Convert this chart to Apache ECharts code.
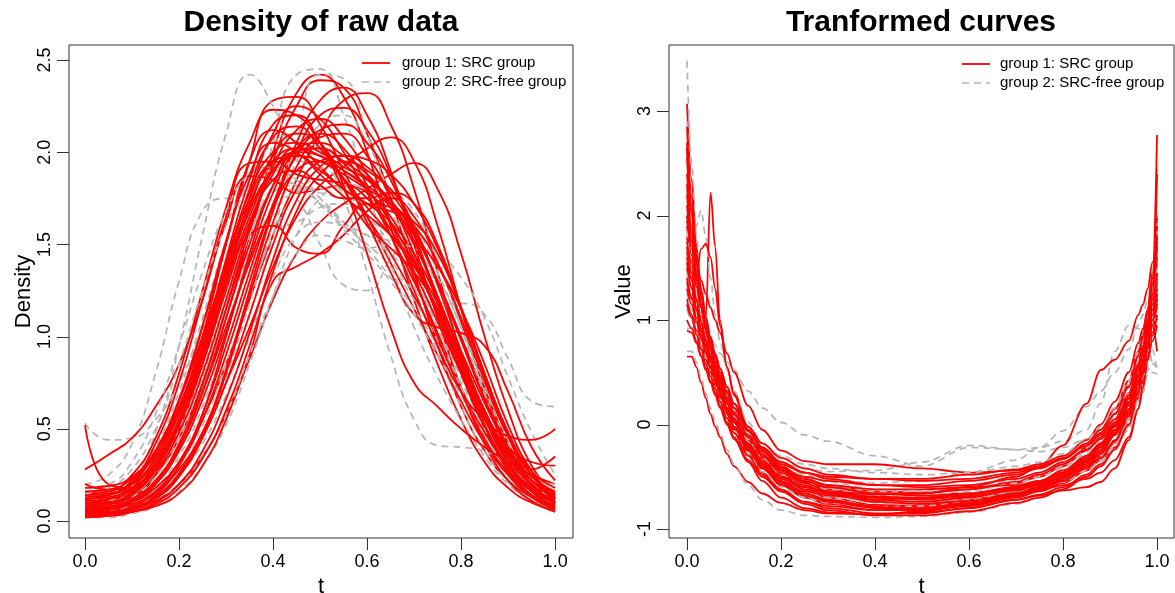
<!DOCTYPE html>
<html>
<head>
<meta charset="utf-8">
<script src="https://cdn.jsdelivr.net/npm/echarts@6/dist/echarts.min.js"></script>
<style>
html,body{margin:0;padding:0;background:#fff;}
#chart{width:1175px;height:593px;}
</style>
</head>
<body>
<div id="chart"></div>
<script>
// ---------- DATA ----------
const xTicks = [0, 0.2, 0.4, 0.6, 0.8, 1.0];
const leftYTicks = [0, 0.5, 1.0, 1.5, 2.0, 2.5];
const rightYTicks = [-1, 0, 1, 2, 3];
const legendNames = ['group 1: SRC group', 'group 2: SRC-free group'];

// left panel: density of raw data, sampled at tLeft
const tLeft = [0,0.05,0.1,0.15,0.2,0.25,0.3,0.35,0.4,0.45,0.5,0.55,0.6,0.65,0.7,0.75,0.8,0.85,0.9,0.95,1];
const leftRed = [
 [0.05,0.06,0.10,0.20,0.40,0.70,1.10,1.55,2.00,2.32,2.42,2.30,2.00,1.60,1.20,0.85,0.55,0.32,0.18,0.10,0.06],
 [0.08,0.09,0.13,0.25,0.45,0.75,1.15,1.55,1.95,2.25,2.39,2.35,2.10,1.75,1.35,0.95,0.62,0.38,0.22,0.13,0.08],
 [0.10,0.11,0.18,0.35,0.65,1.05,1.50,1.95,2.28,2.30,2.15,1.90,1.65,1.40,1.15,0.90,0.65,0.42,0.25,0.14,0.09],
 [0.04,0.05,0.08,0.15,0.30,0.55,0.90,1.30,1.70,2.05,2.28,2.35,2.20,1.90,1.50,1.10,0.72,0.42,0.22,0.11,0.05],
 [0.06,0.07,0.10,0.18,0.32,0.55,0.85,1.20,1.55,1.85,2.10,2.28,2.32,2.15,1.80,1.35,0.90,0.52,0.27,0.13,0.06],
 [0.15,0.16,0.25,0.45,0.80,1.25,1.70,2.05,2.23,2.20,2.05,1.85,1.65,1.45,1.22,0.98,0.72,0.48,0.30,0.18,0.12],
 [0.07,0.08,0.12,0.25,0.50,0.85,1.30,1.75,2.10,2.25,2.18,2.00,1.78,1.55,1.30,1.02,0.72,0.45,0.26,0.14,0.08],
 [0.05,0.06,0.09,0.16,0.28,0.48,0.75,1.05,1.38,1.65,1.82,1.92,2.02,2.08,1.95,1.60,1.15,0.72,0.40,0.20,0.10],
 [0.03,0.04,0.06,0.11,0.20,0.35,0.58,0.88,1.20,1.45,1.62,1.72,1.80,1.88,1.94,1.80,1.45,1.00,0.60,0.30,0.14],
 [0.28,0.36,0.45,0.62,0.85,1.20,1.62,1.87,1.85,1.78,1.80,1.82,1.75,1.58,1.35,1.08,0.80,0.55,0.35,0.22,0.15],
 [0.12,0.14,0.22,0.42,0.75,1.20,1.65,1.94,1.95,1.88,1.85,1.83,1.78,1.65,1.42,1.12,0.80,0.50,0.28,0.16,0.10],
 [0.09,0.10,0.16,0.32,0.60,1.00,1.50,1.95,2.12,2.05,1.92,1.80,1.72,1.62,1.45,1.20,0.90,0.60,0.36,0.20,0.12],
 [0.02,0.03,0.05,0.08,0.15,0.30,0.55,0.90,1.30,1.38,1.45,1.55,1.68,1.75,1.65,1.40,1.08,0.72,0.42,0.22,0.10],
 [0.10,0.12,0.20,0.38,0.65,1.00,1.35,1.55,1.60,1.48,1.45,1.60,1.72,1.70,1.55,1.30,1.00,0.68,0.40,0.22,0.12],
 [0.52,0.20,0.18,0.30,0.55,0.92,1.35,1.72,1.95,2.02,1.98,1.90,1.82,1.70,1.50,1.22,0.90,0.58,0.34,0.20,0.13],
 [0.10,0.10,0.15,0.28,0.52,0.88,1.30,1.70,1.98,2.10,2.05,1.82,1.45,1.05,0.75,0.62,0.50,0.40,0.32,0.25,0.20],
 [0.05,0.06,0.10,0.20,0.40,0.70,1.05,1.40,1.70,1.90,1.95,1.85,1.62,1.35,1.12,1.05,1.02,0.95,0.70,0.40,0.22],
 [0.06,0.07,0.11,0.20,0.38,0.66,1.02,1.42,1.78,2.02,2.10,2.02,1.82,1.55,1.25,0.95,0.70,0.55,0.46,0.44,0.50],
 [0.18,0.19,0.24,0.38,0.62,0.98,1.40,1.78,2.00,2.05,2.00,1.92,1.85,1.72,1.52,1.22,0.88,0.56,0.32,0.18,0.12],
 [0.04,0.05,0.07,0.13,0.25,0.45,0.75,1.12,1.50,1.80,1.95,1.98,1.92,1.78,1.58,1.30,0.98,0.66,0.40,0.22,0.12],
 [0.03,0.04,0.06,0.12,0.24,0.46,0.80,1.22,1.62,1.92,2.08,2.10,1.98,1.75,1.45,1.12,0.80,0.52,0.30,0.16,0.08],
 [0.12,0.13,0.18,0.30,0.52,0.85,1.25,1.62,1.85,1.90,1.82,1.75,1.75,1.78,1.72,1.50,1.15,0.78,0.46,0.25,0.15],
 [0.08,0.09,0.14,0.28,0.55,0.95,1.42,1.85,2.15,2.20,2.05,1.80,1.60,1.48,1.35,1.15,0.88,0.60,0.37,0.22,0.14],
 [0.02,0.03,0.05,0.09,0.18,0.34,0.60,0.95,1.35,1.68,1.88,1.95,1.88,1.72,1.55,1.38,1.15,0.85,0.52,0.27,0.13],
 [0.14,0.15,0.20,0.34,0.58,0.92,1.32,1.68,1.90,1.98,1.95,1.88,1.80,1.72,1.60,1.40,1.10,0.76,0.46,0.28,0.35],
 [0.05,0.05,0.08,0.16,0.32,0.58,0.95,1.35,1.72,1.98,2.12,2.15,2.05,1.85,1.55,1.18,0.82,0.52,0.30,0.17,0.10],
 [0.03,0.04,0.07,0.14,0.30,0.58,1.00,1.45,1.82,2.02,2.05,1.98,1.90,1.80,1.60,1.28,0.92,0.58,0.32,0.16,0.07],
 [0.20,0.17,0.20,0.32,0.55,0.88,1.28,1.65,1.90,2.00,1.98,1.90,1.80,1.62,1.40,1.12,0.84,0.58,0.40,0.32,0.30],
 [0.07,0.08,0.12,0.22,0.42,0.74,1.15,1.58,1.92,2.12,2.18,2.08,1.88,1.62,1.32,1.00,0.70,0.44,0.25,0.13,0.07],
 [0.11,0.12,0.17,0.30,0.54,0.90,1.36,1.80,2.08,2.14,2.02,1.86,1.70,1.55,1.38,1.15,0.86,0.56,0.32,0.18,0.11],
 [0.04,0.04,0.07,0.13,0.26,0.48,0.82,1.25,1.68,2.00,2.20,2.24,2.12,1.88,1.56,1.20,0.84,0.52,0.28,0.14,0.06],
 [0.16,0.17,0.23,0.36,0.60,0.95,1.38,1.75,1.95,1.98,1.90,1.80,1.72,1.68,1.62,1.45,1.15,0.80,0.48,0.27,0.18],
 [0.09,0.10,0.15,0.27,0.48,0.80,1.20,1.60,1.88,2.02,2.02,1.95,1.86,1.74,1.56,1.30,0.98,0.66,0.38,0.20,0.10],
 [0.03,0.03,0.05,0.10,0.20,0.38,0.66,1.02,1.42,1.74,1.92,1.98,1.96,1.88,1.72,1.48,1.16,0.80,0.48,0.25,0.12],
 [0.13,0.14,0.21,0.38,0.66,1.06,1.52,1.88,2.05,2.00,1.88,1.76,1.66,1.55,1.40,1.18,0.92,0.64,0.40,0.24,0.16],
 [0.06,0.07,0.11,0.21,0.40,0.70,1.10,1.50,1.82,2.00,2.02,1.94,1.80,1.62,1.40,1.14,0.86,0.58,0.35,0.19,0.09]
];
const leftGray = [
 [0.06,0.07,0.10,0.18,0.35,0.62,1.00,1.50,2.05,2.42,2.45,2.20,1.80,1.40,1.05,0.78,0.55,0.35,0.20,0.11,0.06],
 [0.04,0.05,0.08,0.14,0.26,0.46,0.75,1.12,1.55,2.05,2.42,2.40,2.10,1.70,1.28,0.92,0.62,0.38,0.21,0.11,0.05],
 [0.10,0.12,0.22,0.48,0.95,1.55,2.10,2.42,2.25,1.95,1.75,1.62,1.55,1.45,1.30,1.08,0.82,0.55,0.32,0.18,0.10],
 [0.20,0.25,0.42,0.80,1.30,1.68,1.75,1.65,1.60,1.62,1.70,1.72,1.65,1.50,1.30,1.05,0.78,0.52,0.32,0.18,0.12],
 [0.08,0.09,0.15,0.30,0.58,0.95,1.35,1.70,1.85,1.75,1.50,1.28,1.25,1.42,1.58,1.48,1.15,0.75,0.42,0.22,0.12],
 [0.05,0.06,0.09,0.16,0.30,0.52,0.85,1.22,1.55,1.78,1.85,1.78,1.62,1.42,1.25,1.18,1.18,1.12,0.88,0.65,0.62],
 [0.12,0.14,0.22,0.40,0.70,1.10,1.52,1.85,2.05,2.10,2.00,1.75,1.35,0.90,0.55,0.41,0.40,0.38,0.30,0.20,0.12],
 [0.53,0.44,0.45,0.55,0.75,1.05,1.40,1.70,1.85,1.82,1.72,1.60,1.50,1.38,1.20,0.98,0.75,0.52,0.32,0.18,0.10],
 [0.03,0.04,0.06,0.12,0.24,0.45,0.78,1.18,1.60,1.95,2.15,2.20,2.05,1.75,1.40,1.05,0.72,0.44,0.25,0.13,0.06],
 [0.10,0.11,0.16,0.28,0.50,0.82,1.20,1.55,1.78,1.82,1.78,1.75,1.72,1.65,1.50,1.28,1.00,0.70,0.44,0.26,0.16],
 [0.02,0.02,0.04,0.08,0.16,0.30,0.52,0.85,1.22,1.55,1.75,1.82,1.80,1.70,1.52,1.28,1.00,0.70,0.44,0.25,0.14],
 [0.15,0.18,0.28,0.50,0.85,1.25,1.60,1.82,1.90,1.85,1.75,1.62,1.48,1.32,1.15,0.95,0.72,0.50,0.32,0.20,0.14],
 [0.05,0.06,0.10,0.20,0.40,0.72,1.10,1.45,1.68,1.78,1.80,1.82,1.85,1.80,1.62,1.35,1.05,0.75,0.48,0.28,0.15],
 [0.04,0.05,0.08,0.14,0.25,0.42,0.68,1.00,1.32,1.55,1.62,1.60,1.55,1.52,1.50,1.45,1.32,1.10,0.78,0.48,0.25],
 [0.08,0.09,0.13,0.24,0.45,0.78,1.18,1.55,1.82,1.95,1.92,1.85,1.80,1.78,1.68,1.42,1.05,0.68,0.38,0.19,0.09],
 [0.06,0.06,0.08,0.12,0.20,0.35,0.58,0.90,1.22,1.45,1.55,1.52,1.48,1.50,1.48,1.32,1.05,0.72,0.42,0.22,0.10],
 [0.18,0.20,0.32,0.58,0.95,1.35,1.68,1.88,1.92,1.85,1.72,1.58,1.45,1.30,1.12,0.90,0.68,0.46,0.30,0.22,0.20]
];

// right panel: transformed curves, sampled at tRight
const tRight = [0,0.01,0.02,0.03,0.04,0.05,0.06,0.07,0.085,0.1,0.13,0.16,0.2,0.25,0.3,0.4,0.5,0.6,0.7,0.75,0.8,0.85,0.88,0.91,0.94,0.96,0.97,0.98,0.99,1];
const rightRed = [
 [3.07,2.35,1.70,1.30,1.02,0.80,0.62,0.46,0.26,0.10,-0.14,-0.32,-0.48,-0.60,-0.67,-0.74,-0.76,-0.72,-0.64,-0.58,-0.48,-0.33,-0.20,-0.02,0.22,0.48,0.66,0.90,1.25,1.70],
 [1.90,1.62,1.35,1.15,1.02,2.22,1.70,1.00,0.55,0.30,-0.02,-0.22,-0.40,-0.52,-0.58,-0.64,-0.65,-0.62,-0.56,-0.50,-0.40,-0.25,-0.12,0.05,0.30,0.55,0.72,0.95,1.20,1.45],
 [1.36,1.20,1.42,1.68,1.73,1.60,1.30,0.95,0.55,0.28,-0.05,-0.25,-0.42,-0.55,-0.62,-0.70,-0.72,-0.68,-0.60,-0.54,-0.44,-0.30,-0.18,0.00,0.25,0.52,0.70,0.98,1.35,2.00],
 [0.65,0.65,0.55,0.40,0.25,0.10,-0.02,-0.12,-0.28,-0.40,-0.55,-0.66,-0.75,-0.82,-0.85,-0.86,-0.84,-0.80,-0.72,-0.67,-0.60,-0.48,-0.38,-0.22,0.00,0.25,0.40,0.62,0.80,0.95],
 [2.40,1.90,1.45,1.12,0.90,0.70,0.55,0.42,0.24,0.08,-0.15,-0.30,-0.44,-0.55,-0.60,-0.66,-0.66,-0.62,-0.55,-0.48,-0.38,-0.22,-0.08,0.10,0.38,0.65,0.82,1.10,1.45,2.77],
 [1.80,1.50,1.22,1.00,0.82,0.66,0.52,0.40,0.22,0.06,-0.18,-0.36,-0.52,-0.63,-0.70,-0.77,-0.78,-0.75,-0.68,-0.62,-0.53,-0.40,-0.30,-0.15,0.05,0.28,0.42,0.62,0.88,1.20],
 [2.10,1.75,1.40,1.12,0.88,0.68,0.50,0.34,0.14,-0.02,-0.25,-0.42,-0.58,-0.70,-0.76,-0.82,-0.82,-0.78,-0.70,-0.64,-0.56,-0.44,-0.34,-0.18,0.05,0.32,0.50,0.75,1.05,1.40],
 [1.50,1.30,1.10,0.92,0.76,0.62,0.48,0.36,0.20,0.06,-0.15,-0.30,-0.42,-0.50,-0.54,-0.58,-0.58,-0.54,-0.48,-0.42,-0.33,-0.18,-0.05,0.15,0.42,0.70,0.88,1.08,1.30,1.55],
 [2.70,2.05,1.55,1.20,0.95,0.75,0.58,0.44,0.26,0.12,-0.10,-0.26,-0.38,-0.46,-0.50,-0.52,-0.52,-0.48,-0.43,-0.38,-0.30,-0.15,0.00,0.22,0.50,0.78,0.92,1.10,1.40,1.90],
 [1.95,1.75,1.55,1.38,1.25,1.12,1.00,0.88,0.68,0.50,0.18,-0.05,-0.25,-0.35,-0.38,-0.38,-0.42,-0.46,-0.44,-0.40,-0.32,-0.20,-0.10,0.05,0.30,0.58,0.75,0.95,1.15,1.30],
 [1.20,1.05,0.90,0.75,0.62,0.50,0.38,0.26,0.10,-0.04,-0.25,-0.42,-0.58,-0.68,-0.73,-0.78,-0.78,-0.74,-0.68,-0.63,-0.58,-0.52,-0.46,-0.34,-0.12,0.15,0.35,0.62,0.85,1.05],
 [1.65,1.38,1.12,0.90,0.70,0.54,0.40,0.28,0.10,-0.05,-0.28,-0.46,-0.62,-0.74,-0.80,-0.85,-0.85,-0.80,-0.72,-0.68,-0.63,-0.60,-0.55,-0.42,-0.15,0.15,0.35,0.65,0.95,1.20],
 [1.40,1.22,1.02,0.85,0.70,0.56,0.43,0.32,0.16,0.02,-0.20,-0.36,-0.50,-0.60,-0.64,-0.67,-0.66,-0.60,-0.50,-0.40,-0.20,0.20,0.52,0.62,0.80,1.05,1.15,1.30,1.55,1.80],
 [2.30,1.85,1.45,1.15,0.92,0.72,0.55,0.40,0.20,0.04,-0.20,-0.38,-0.54,-0.66,-0.72,-0.79,-0.80,-0.76,-0.68,-0.62,-0.52,-0.36,-0.24,-0.06,0.18,0.45,0.60,0.85,1.15,1.35],
 [1.00,0.92,0.80,0.66,0.54,0.42,0.30,0.18,0.02,-0.12,-0.34,-0.50,-0.64,-0.74,-0.78,-0.82,-0.80,-0.75,-0.66,-0.60,-0.50,-0.34,-0.20,0.00,0.28,0.58,0.75,0.98,1.20,1.45],
 [2.85,2.20,1.65,1.28,1.02,0.82,0.64,0.50,0.32,0.16,-0.06,-0.22,-0.36,-0.46,-0.52,-0.58,-0.60,-0.58,-0.52,-0.46,-0.36,-0.24,-0.14,0.02,0.25,0.52,0.68,0.92,1.25,1.75],
 [1.60,1.40,1.18,0.98,0.80,0.64,0.48,0.34,0.14,-0.02,-0.24,-0.40,-0.55,-0.64,-0.68,-0.72,-0.70,-0.66,-0.60,-0.55,-0.47,-0.34,-0.22,-0.05,0.20,0.48,0.62,0.88,1.25,2.40],
 [1.75,1.55,1.32,1.12,0.95,0.80,0.66,0.54,0.36,0.20,-0.05,-0.22,-0.40,-0.52,-0.58,-0.62,-0.62,-0.60,-0.58,-0.54,-0.46,-0.30,-0.18,0.00,0.25,0.52,0.70,0.95,1.20,1.10],
 [0.90,0.88,0.78,0.65,0.52,0.40,0.28,0.16,0.00,-0.14,-0.36,-0.54,-0.70,-0.80,-0.84,-0.86,-0.83,-0.76,-0.66,-0.60,-0.50,-0.36,-0.26,-0.10,0.12,0.38,0.52,0.72,0.95,0.70],
 [2.55,2.00,1.55,1.22,0.98,0.78,0.60,0.45,0.26,0.10,-0.12,-0.28,-0.44,-0.56,-0.64,-0.72,-0.74,-0.70,-0.62,-0.56,-0.46,-0.32,-0.20,-0.02,0.25,0.55,0.72,1.00,1.35,1.60],
 [1.30,1.15,0.98,0.82,0.68,0.55,0.42,0.30,0.12,-0.02,-0.22,-0.38,-0.52,-0.62,-0.66,-0.70,-0.71,-0.69,-0.63,-0.58,-0.50,-0.38,-0.28,-0.10,0.15,0.45,0.62,0.90,1.10,1.00],
 [2.20,1.80,1.42,1.12,0.90,0.72,0.56,0.42,0.24,0.10,-0.12,-0.30,-0.46,-0.58,-0.66,-0.74,-0.76,-0.73,-0.66,-0.61,-0.54,-0.42,-0.32,-0.16,0.08,0.35,0.52,0.78,1.05,1.25],
 [1.55,1.32,1.10,0.90,0.74,0.60,0.46,0.34,0.16,0.02,-0.22,-0.40,-0.56,-0.68,-0.74,-0.80,-0.81,-0.77,-0.69,-0.63,-0.54,-0.40,-0.28,-0.10,0.14,0.42,0.58,0.84,1.10,1.30],
 [2.00,1.68,1.38,1.12,0.92,0.75,0.60,0.47,0.30,0.16,-0.06,-0.24,-0.42,-0.54,-0.60,-0.66,-0.68,-0.66,-0.60,-0.55,-0.48,-0.36,-0.26,-0.08,0.18,0.46,0.62,0.88,1.15,1.20],
 [1.15,1.02,0.86,0.72,0.58,0.46,0.34,0.22,0.06,-0.08,-0.30,-0.48,-0.64,-0.76,-0.82,-0.87,-0.87,-0.83,-0.75,-0.70,-0.62,-0.50,-0.40,-0.24,0.00,0.30,0.48,0.74,1.00,1.25],
 [2.65,2.10,1.62,1.28,1.02,0.84,0.68,0.54,0.36,0.20,-0.02,-0.18,-0.32,-0.42,-0.48,-0.52,-0.54,-0.52,-0.46,-0.41,-0.33,-0.20,-0.08,0.10,0.36,0.66,0.84,1.08,1.40,1.80],
 [1.70,1.45,1.20,0.98,0.80,0.64,0.50,0.38,0.20,0.05,-0.18,-0.34,-0.50,-0.60,-0.65,-0.69,-0.70,-0.67,-0.61,-0.57,-0.50,-0.40,-0.32,-0.16,0.10,0.40,0.56,0.80,1.00,1.15]
];
const rightGray = [
 [3.48,2.50,1.80,1.35,1.05,0.82,0.64,0.50,0.32,0.16,-0.08,-0.26,-0.44,-0.58,-0.66,-0.74,-0.76,-0.72,-0.64,-0.58,-0.48,-0.32,-0.18,0.00,0.26,0.52,0.68,0.92,1.25,1.65],
 [1.55,1.60,1.90,2.05,1.80,1.40,1.05,0.80,0.52,0.32,0.02,-0.18,-0.35,-0.48,-0.55,-0.62,-0.64,-0.60,-0.54,-0.48,-0.40,-0.26,-0.14,0.04,0.30,0.58,0.75,1.00,1.35,2.45],
 [0.92,0.92,0.95,0.95,0.90,0.83,0.76,0.68,0.60,0.52,0.32,0.16,0.02,-0.10,-0.16,-0.30,-0.40,-0.22,-0.24,-0.22,-0.16,-0.05,0.20,0.70,0.95,0.92,0.88,0.80,0.60,0.55],
 [0.70,0.70,0.60,0.45,0.30,0.16,0.04,-0.08,-0.24,-0.38,-0.58,-0.72,-0.82,-0.87,-0.88,-0.89,-0.88,-0.84,-0.76,-0.70,-0.62,-0.50,-0.40,-0.25,-0.02,0.22,0.36,0.55,0.72,0.50],
 [2.00,1.70,1.40,1.15,0.95,0.78,0.62,0.48,0.28,0.12,-0.12,-0.26,-0.36,-0.42,-0.45,-0.44,-0.36,-0.20,-0.24,-0.26,-0.22,-0.14,-0.04,0.12,0.38,0.68,0.85,1.05,1.30,1.60],
 [1.70,1.45,1.22,1.02,0.86,0.72,0.58,0.46,0.30,0.16,-0.06,-0.22,-0.36,-0.46,-0.52,-0.56,-0.54,-0.46,-0.34,-0.22,-0.06,0.17,0.32,0.50,0.72,0.95,1.05,1.20,1.40,1.80],
 [2.60,2.05,1.58,1.25,1.00,0.80,0.62,0.46,0.26,0.10,-0.14,-0.32,-0.48,-0.60,-0.68,-0.75,-0.77,-0.73,-0.65,-0.60,-0.52,-0.40,-0.30,-0.14,0.10,0.38,0.55,0.82,1.15,2.10],
 [1.25,1.10,0.95,0.80,0.66,0.53,0.40,0.28,0.12,-0.02,-0.24,-0.40,-0.55,-0.65,-0.70,-0.74,-0.74,-0.70,-0.62,-0.56,-0.48,-0.38,-0.30,-0.18,0.02,0.25,0.38,0.52,0.58,0.55],
 [2.25,1.85,1.48,1.18,0.95,0.76,0.60,0.46,0.28,0.14,-0.08,-0.24,-0.40,-0.52,-0.58,-0.64,-0.64,-0.60,-0.52,-0.46,-0.36,-0.22,-0.10,0.08,0.35,0.62,0.80,1.02,1.30,1.55],
 [1.85,1.55,1.28,1.05,0.86,0.70,0.55,0.42,0.24,0.08,-0.16,-0.34,-0.52,-0.64,-0.71,-0.78,-0.79,-0.76,-0.68,-0.62,-0.52,-0.34,-0.18,0.02,0.30,0.60,0.78,1.00,1.25,1.50],
 [1.45,1.25,1.05,0.88,0.72,0.58,0.45,0.33,0.16,0.02,-0.20,-0.36,-0.52,-0.62,-0.66,-0.70,-0.70,-0.67,-0.62,-0.58,-0.52,-0.44,-0.36,-0.22,-0.05,0.15,0.30,0.48,0.50,0.48],
 [2.90,2.20,1.62,1.25,0.98,0.78,0.60,0.45,0.26,0.10,-0.14,-0.30,-0.46,-0.56,-0.62,-0.68,-0.68,-0.64,-0.56,-0.50,-0.42,-0.28,-0.16,0.02,0.28,0.56,0.72,0.98,1.30,1.85],
 [1.10,1.00,0.88,0.74,0.60,0.48,0.36,0.24,0.08,-0.06,-0.28,-0.45,-0.60,-0.70,-0.75,-0.79,-0.78,-0.74,-0.67,-0.62,-0.55,-0.44,-0.34,-0.18,0.05,0.30,0.46,0.70,0.92,1.20],
 [1.65,1.45,1.25,1.06,0.90,0.76,0.62,0.50,0.32,0.18,-0.04,-0.18,-0.30,-0.38,-0.42,-0.46,-0.48,-0.46,-0.40,-0.36,-0.28,-0.14,-0.02,0.16,0.42,0.70,0.86,1.05,1.25,1.40]
];

// ---------- CHART ----------
const RED = '#ff0000';
const GRAY = '#b4b4b4';
const AXC = '#333333';
const FONT = '"Liberation Sans", Arial, Helvetica, sans-serif';
const DASH = [7, 5];
const TICK_LEN = 12;
const LEFT_X = [-0.034, 1.038], LEFT_Y = [-0.092, 2.581];
const RIGHT_X = [-0.0383, 1.036], RIGHT_Y = [-1.086, 3.632];
const chart = echarts.init(document.getElementById('chart'), null, {renderer: 'canvas'});

function makeSeries(t, ys, idx, isRed, smooth, mono) {
  const s = {
    type: 'line',
    name: isRed ? legendNames[0] : legendNames[1],
    xAxisIndex: idx, yAxisIndex: idx,
    data: ys.map((v, i) => [t[i], v]),
    showSymbol: false, symbol: 'none',
    smooth: smooth,
    silent: true,
    animation: false,
    lineStyle: isRed ? {color: RED, width: 1.8} : {color: GRAY, width: 1.7, type: DASH},
    itemStyle: {color: isRed ? RED : GRAY}
  };
  if (mono) s.smoothMonotone = 'x';
  return s;
}
const series = [];
function addPanel(t, red, gray, idx, smooth, mono) {
  const n = Math.max(red.length, gray.length);
  for (let i = 0; i < n; i++) {
    if (i < red.length) series.push(makeSeries(t, red[i], idx, true, smooth, mono));
    if (i < gray.length) series.push(makeSeries(t, gray[i], idx, false, smooth, mono));
  }
}
addPanel(tLeft, leftRed, leftGray, 0, 0.5, false);
addPanel(tRight, rightRed, rightGray, 1, 0.35, true);

// outward tick marks (R style), positioned through the axes' own scales
function tickSeries(idx, values, dir, edge) {
  return {
    type: 'custom', xAxisIndex: idx, yAxisIndex: idx, silent: true, clip: false, animation: false,
    data: values.map(v => dir === 'x' ? [v, edge] : [edge, v]),
    encode: {x: 0, y: 1},
    renderItem: function (params, api) {
      const p = api.coord([api.value(0), api.value(1)]);
      if (dir === 'x') {
        const x = Math.round(p[0]) + 0.5, y = Math.round(p[1]);
        return {type: 'line', shape: {x1: x, y1: y, x2: x, y2: y + TICK_LEN}, style: {stroke: AXC, lineWidth: 1}};
      }
      const x = Math.round(p[0]), y = Math.round(p[1]) + 0.5;
      return {type: 'line', shape: {x1: x, y1: y, x2: x - TICK_LEN, y2: y}, style: {stroke: AXC, lineWidth: 1}};
    }
  };
}
series.push(tickSeries(0, xTicks, 'x', LEFT_Y[0]));
series.push(tickSeries(0, leftYTicks, 'y', LEFT_X[0]));
series.push(tickSeries(1, xTicks, 'x', RIGHT_Y[0]));
series.push(tickSeries(1, rightYTicks, 'y', RIGHT_X[0]));

function xAxisCfg(idx, ext) {
  return {
    type: 'value', gridIndex: idx, min: ext[0], max: ext[1], position: 'bottom',
    name: 't', nameLocation: 'middle', nameGap: 32,
    nameTextStyle: {fontFamily: FONT, fontSize: 22, color: '#000'},
    axisLine: {show: false, onZero: false},
    axisTick: {show: false},
    axisLabel: {show: true, customValues: xTicks, formatter: v => v.toFixed(1), fontFamily: FONT, fontSize: 18, color: '#000', margin: 15},
    splitLine: {show: false}
  };
}
function yAxisCfg(idx, ext, ticks, name, fmt) {
  return {
    type: 'value', gridIndex: idx, min: ext[0], max: ext[1], position: 'left',
    name: name, nameLocation: 'middle', nameGap: 34, nameRotate: 90,
    nameTextStyle: {fontFamily: FONT, fontSize: 22, color: '#000'},
    axisLine: {show: false, onZero: false},
    axisTick: {show: false},
    axisLabel: {show: true, customValues: ticks, formatter: fmt, rotate: 90, fontFamily: FONT, fontSize: 18, color: '#000', margin: 15},
    splitLine: {show: false}
  };
}

function legendGraphics(x0, yTop, textX) {
  return [
    {type: 'line', shape: {x1: x0, y1: yTop, x2: x0 + 28, y2: yTop}, style: {stroke: RED, lineWidth: 1.8}, silent: true},
    {type: 'text', x: textX, y: yTop, style: {text: legendNames[0], font: '15px ' + FONT, fill: '#000', textVerticalAlign: 'middle'}, silent: true},
    {type: 'line', shape: {x1: x0, y1: yTop + 19, x2: x0 + 28, y2: yTop + 19}, style: {stroke: GRAY, lineWidth: 1.7, lineDash: DASH}, silent: true},
    {type: 'text', x: textX, y: yTop + 19, style: {text: legendNames[1], font: '15px ' + FONT, fill: '#000', textVerticalAlign: 'middle'}, silent: true}
  ];
}

const option = {
  backgroundColor: '#fff',
  animation: false,
  grid: [
    {left: 69, right: 602, top: 45, bottom: 55, show: true, borderColor: AXC, borderWidth: 1, backgroundColor: 'transparent', containLabel: false, outerBoundsMode: 'none'},
    {left: 669, right: 1, top: 45, bottom: 55, show: true, borderColor: AXC, borderWidth: 1, backgroundColor: 'transparent', containLabel: false, outerBoundsMode: 'none'}
  ],
  xAxis: [xAxisCfg(0, LEFT_X), xAxisCfg(1, RIGHT_X)],
  yAxis: [
    yAxisCfg(0, LEFT_Y, leftYTicks, 'Density', v => v.toFixed(1)),
    yAxisCfg(1, RIGHT_Y, rightYTicks, 'Value', v => String(Math.round(v)))
  ],
  graphic: [
    {type: 'text', x: 321, y: 23, style: {text: 'Density of raw data', font: 'bold 30px ' + FONT, fill: '#000', textAlign: 'center', textVerticalAlign: 'middle'}},
    {type: 'text', x: 921, y: 23, style: {text: 'Tranformed curves', font: 'bold 30px ' + FONT, fill: '#000', textAlign: 'center', textVerticalAlign: 'middle'}}
  ].concat(legendGraphics(362, 63, 402)).concat(legendGraphics(962, 64, 1000)),
  series: series
};
chart.setOption(option);
</script>
</body>
</html>
